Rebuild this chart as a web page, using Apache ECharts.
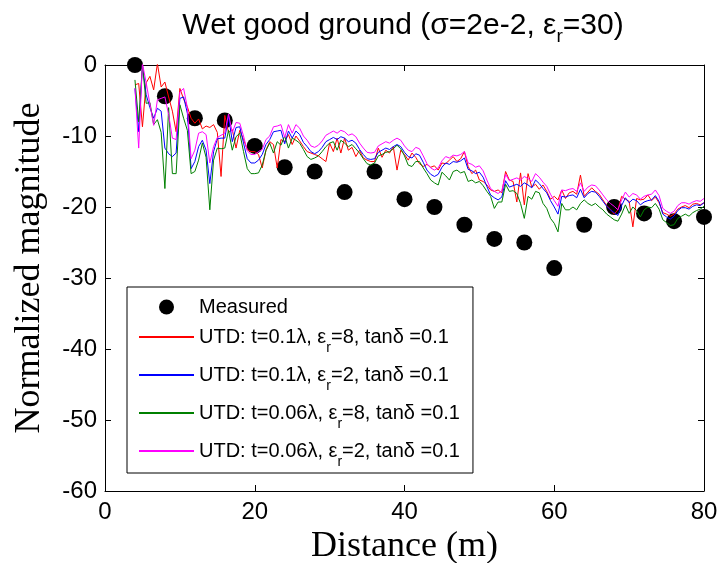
<!DOCTYPE html>
<html><head><meta charset="utf-8">
<script src="https://cdn.jsdelivr.net/npm/echarts@6/dist/echarts.min.js"></script>
<style>html,body{margin:0;padding:0;background:#fff}#c{width:719px;height:563px}</style>
</head><body><div id="c"></div>
<script>
// Distance grid of simulated curves (m)
const distance = [
 4,4.5,5,5.5,6,6.5,7,7.5,8,8.5,
 9,9.5,10,10.5,11,11.5,12,12.5,13,13.5,
 14,14.5,15,15.5,16,16.5,17,17.5,18,18.5,
 19,19.5,20,20.5,21,21.5,22,22.5,23,23.5,
 24,24.5,25,25.5,26,26.5,27,27.5,28,28.5,
 29,29.5,30,30.5,31,31.5,32,32.5,33,33.5,
 34,34.5,35,35.5,36,36.5,37,37.5,38,38.5,
 39,39.5,40,40.5,41,41.5,42,42.5,43,43.5,
 44,44.5,45,45.5,46,46.5,47,47.5,48,48.5,
 49,49.5,50,50.5,51,51.5,52,52.5,53,53.5,
 54,54.5,55,55.5,56,56.5,57,57.5,58,58.5,
 59,59.5,60,60.5,61,61.5,62,62.5,63,63.5,
 64,64.5,65,65.5,66,66.5,67,67.5,68,68.5,
 69,69.5,70,70.5,71,71.5,72,72.5,73,73.5,
 74,74.5,75,75.5,76,76.5,77,77.5,78,78.5,
 79,79.5,80
];
// Measured points
const measuredDistance = [4,8,12,16,20,24,28,32,36,40,44,48,52,56,60,64,68,72,76,80];
const measured = [0,-4.4,-7.5,-7.8,-11.4,-14.4,-15.0,-17.9,-15.0,-18.9,-20.0,-22.5,-24.5,-25.0,-28.6,-22.5,-20.0,-20.9,-22.0,-21.4];
// UTD: t=0.1λ, εr=8 (red)
const utdT01Er8 = [
 -2.8,-2.6,-8.7,-2.5,-1.6,-3.5,0.2,-3.1,-2.4,-4.5,
 -6.5,-9.4,-3.3,-4.8,-5.9,-7.5,-8.2,-7.6,-9.0,-8.6,
 -8.8,-8.4,-9.5,-15.7,-7.1,-9.5,-9.1,-11.7,-9.2,-10.5,
 -11.9,-12.2,-12.2,-12.6,-14.5,-12.0,-10.8,-11.2,-14.5,-10.5,
 -10.8,-9.8,-11.2,-10.0,-10.7,-11.5,-12.2,-12.4,-12.6,-12.8,
 -13.2,-13.6,-11.0,-12.2,-10.3,-12.4,-10.3,-12.0,-11.6,-12.9,
 -12.0,-13.1,-13.4,-13.6,-13.6,-11.7,-13.0,-12.0,-12.4,-11.5,
 -14.8,-12.0,-12.6,-13.4,-12.4,-13.0,-13.9,-14.3,-14.0,-14.4,
 -14.2,-14.8,-13.8,-13.9,-13.4,-12.9,-13.6,-13.2,-12.2,-14.3,
 -15.3,-14.8,-16.2,-16.4,-16.9,-17.6,-17.8,-17.6,-18.0,-15.0,
 -16.2,-16.4,-19.3,-15.2,-19.7,-15.3,-17.2,-16.8,-17.5,-16.9,
 -17.8,-18.9,-18.5,-19.0,-17.6,-18.8,-18.0,-17.8,-18.2,-15.5,
 -18.5,-17.9,-17.3,-17.8,-18.2,-19.0,-19.8,-20.3,-21.0,-20.4,
 -18.5,-18.9,-19.2,-22.8,-18.8,-19.0,-18.9,-18.3,-19.1,-18.6,
 -19.4,-20.8,-21.0,-21.3,-21.0,-20.3,-20.0,-19.8,-20.1,-19.6,
 -19.5,-19.7,-19.4
];
// UTD: t=0.1λ, εr=2 (blue)
const utdT01Er2 = [
 -3.3,-9.4,0.0,-4.2,-6.0,-7.5,-6.1,-6.5,-11.7,-12.5,
 -12.9,-12.4,-4.7,-4.5,-6.8,-14.6,-13.6,-11.5,-10.6,-12.0,
 -16.7,-12.2,-10.4,-10.3,-10.3,-7.2,-10.8,-8.8,-8.7,-11.0,
 -13.2,-13.8,-13.8,-13.4,-12.6,-11.2,-10.5,-9.4,-9.3,-9.2,
 -11.1,-9.3,-10.3,-9.3,-9.8,-10.9,-11.5,-12.2,-12.5,-12.2,
 -11.6,-10.8,-10.5,-10.2,-10.5,-10.1,-10.3,-10.8,-10.6,-11.0,
 -11.9,-12.6,-13.2,-13.3,-13.2,-12.3,-12.0,-11.7,-11.9,-11.5,
 -11.2,-11.5,-12.3,-12.9,-13.1,-12.5,-12.7,-13.7,-14.8,-15.4,
 -15.7,-15.4,-14.4,-13.8,-14.0,-13.6,-13.7,-13.5,-13.1,-14.7,
 -14.9,-15.3,-15.1,-15.8,-17.1,-18.3,-18.7,-19.0,-18.6,-16.3,
 -17.2,-17.0,-16.8,-17.1,-16.6,-16.9,-17.3,-16.2,-16.7,-17.4,
 -18.0,-19.1,-20.0,-21.0,-18.5,-18.6,-18.4,-18.3,-18.7,-17.5,
 -18.7,-18.1,-17.8,-17.9,-18.5,-19.2,-19.9,-20.4,-20.8,-21.2,
 -19.8,-18.7,-19.4,-18.9,-19.1,-19.7,-19.3,-19.1,-19.0,-18.4,
 -19.2,-21.0,-21.4,-21.7,-21.3,-20.5,-20.1,-20.1,-20.3,-19.9,
 -19.7,-19.8,-19.4
];
// UTD: t=0.06λ, εr=8 (green)
const utdT006Er8 = [
 -2.1,-8.0,0.0,-5.4,-5.3,-8.4,-7.7,-9.5,-17.4,-6.0,
 -15.3,-15.3,-5.6,-7.5,-9.2,-15.3,-15.0,-13.4,-11.0,-13.0,
 -20.4,-13.4,-11.7,-11.8,-11.7,-9.2,-12.0,-10.1,-9.6,-12.2,
 -14.6,-15.3,-15.3,-15.2,-14.1,-12.0,-11.0,-12.4,-10.8,-11.3,
 -10.0,-11.7,-10.3,-10.6,-11.0,-11.9,-12.9,-13.3,-13.1,-12.8,
 -12.2,-11.5,-11.0,-10.8,-12.0,-10.6,-11.0,-11.5,-11.2,-11.8,
 -12.4,-13.2,-13.9,-14.1,-13.8,-12.8,-12.6,-12.3,-12.2,-11.8,
 -11.3,-11.8,-12.8,-14.1,-14.3,-13.6,-13.6,-14.5,-15.3,-16.2,
 -16.6,-16.9,-15.1,-15.6,-16.2,-15.0,-14.8,-15.2,-15.0,-16.4,
 -16.2,-16.6,-16.4,-17.0,-17.8,-18.5,-20.2,-19.3,-19.3,-16.8,
 -17.8,-17.7,-18.1,-19.5,-21.6,-18.5,-18.9,-17.8,-18.0,-19.5,
 -20.2,-21.6,-22.3,-23.5,-19.5,-20.4,-20.4,-20.0,-20.4,-19.5,
 -19.0,-19.5,-19.8,-19.5,-20.0,-20.4,-21.0,-21.4,-21.8,-22.0,
 -21.0,-19.7,-20.9,-20.0,-20.5,-21.4,-20.4,-20.0,-20.1,-19.5,
 -20.3,-21.8,-22.2,-22.6,-22.5,-21.6,-21.3,-21.0,-21.3,-20.8,
 -20.5,-20.3,-19.9
];
// UTD: t=0.06λ, εr=2 (magenta)
const utdT006Er2 = [
 -3.3,-11.7,0.2,-2.5,-5.5,-8.5,-4.9,-4.7,-4.5,-7.0,
 -10.3,-10.5,-3.8,-3.3,-6.0,-13.2,-12.0,-9.6,-9.4,-9.8,
 -13.8,-11.5,-10.2,-9.9,-9.6,-6.9,-9.5,-8.1,-8.2,-10.0,
 -12.1,-12.6,-12.6,-12.2,-11.9,-10.5,-10.0,-8.7,-8.6,-8.4,
 -10.2,-8.4,-9.6,-8.4,-8.9,-10.0,-10.6,-11.4,-11.6,-11.3,
 -10.7,-9.9,-9.6,-9.3,-9.6,-9.2,-9.4,-9.9,-9.7,-10.1,
 -11.0,-11.7,-12.3,-12.4,-12.3,-11.4,-11.1,-10.8,-11.0,-10.6,
 -10.3,-10.6,-11.4,-12.0,-12.2,-11.6,-11.8,-12.8,-13.9,-14.5,
 -14.8,-14.5,-13.5,-12.9,-13.1,-12.7,-12.8,-12.6,-12.2,-13.8,
 -14.0,-14.4,-14.2,-14.9,-16.2,-17.4,-17.8,-18.1,-17.7,-15.4,
 -16.3,-16.1,-15.9,-16.2,-15.7,-16.0,-16.4,-15.3,-15.8,-16.5,
 -17.1,-18.2,-19.1,-19.9,-17.6,-17.7,-17.5,-17.4,-17.8,-16.6,
 -17.8,-17.2,-16.9,-17.0,-17.6,-18.3,-19.0,-19.5,-19.9,-20.4,
 -19.0,-17.9,-18.6,-18.1,-18.3,-18.9,-18.5,-18.3,-18.2,-17.6,
 -18.4,-20.2,-20.6,-20.9,-20.6,-19.8,-19.4,-19.4,-19.6,-19.3,
 -19.1,-19.2,-18.8
];
const xTicks = {min: 0, max: 80, step: 20};
const yTicks = {min: -60, max: 0, step: 10};

const SANS = '"Liberation Sans", Arial, Helvetica, sans-serif';
const SERIF = '"Liberation Serif", "Times New Roman", serif';
const zip = (xs, ys) => xs.map((x, i) => [x, ys[i]]);

const legendText = {
  'Measured': '{m|Measured}',
  'r8': '{n|UTD: t=0.1λ, ε}{s|r}{n|=8, tanδ =0.1}',
  'b2': '{n|UTD: t=0.1λ, ε}{s|r}{n|=2, tanδ =0.1}',
  'g8': '{n|UTD: t=0.06λ, ε}{s|r}{n|=8, tanδ =0.1}',
  'm2': '{n|UTD: t=0.06λ, ε}{s|r}{n|=2, tanδ =0.1}'
};

const axisCommon = {
  axisLine: {show: true, onZero: false, lineStyle: {color: '#000', width: 1}},
  axisTick: {show: true, inside: true, length: 6, lineStyle: {color: '#000', width: 1}},
  splitLine: {show: false}
};

const hiddenSymbol = {opacity: 0};

const chart = echarts.init(document.getElementById('c'), null, {renderer: 'canvas'});
chart.setOption({
  animation: false,
  backgroundColor: '#fff',
  title: {
    text: '{n|Wet good ground (σ=2e-2, ε}{s|r}{n|=30)}',
    left: 398, top: 0, textAlign: 'center',
    textStyle: {
      fontWeight: 'normal',
      rich: {
        n: {fontFamily: SANS, fontSize: 30, fontWeight: 'normal', color: '#000'},
        s: {fontFamily: SANS, fontSize: 19, fontWeight: 'normal', color: '#000', padding: [22, 0, 0, 0]}
      }
    }
  },
  grid: {left: 105, right: 15, top: 65, bottom: 72, containLabel: false, outerBoundsMode: 'none'},
  legend: {
    orient: 'vertical', left: 127, top: 287,
    itemWidth: 55, itemHeight: 15, itemGap: 10,
    padding: [10, 13, 4, 11],
    borderColor: '#000', borderWidth: 1, backgroundColor: '#fff',
    selectedMode: false,
    data: [
      {name: 'Measured', icon: 'circle'},
      {name: 'r8', itemStyle: hiddenSymbol},
      {name: 'b2', itemStyle: hiddenSymbol},
      {name: 'g8', itemStyle: hiddenSymbol},
      {name: 'm2', itemStyle: hiddenSymbol}
    ],
    formatter: name => legendText[name],
    textStyle: {
      color: '#000', fontFamily: SANS, fontSize: 20,
      rich: {
        m: {fontFamily: SANS, fontSize: 20, color: '#000'},
        n: {fontFamily: SANS, fontSize: 20, color: '#000'},
        s: {fontFamily: SANS, fontSize: 14, color: '#000', padding: [22, 0, 0, 0]}
      }
    }
  },
  xAxis: [
    Object.assign({
      type: 'value', min: xTicks.min, max: xTicks.max, interval: xTicks.step, position: 'bottom',
      axisLabel: {color: '#000', fontFamily: SANS, fontSize: 24, margin: 9},
      name: 'Distance (m)', nameLocation: 'middle', nameGap: 38,
      nameTextStyle: {color: '#000', fontFamily: SERIF, fontSize: 36}
    }, axisCommon),
    Object.assign({
      type: 'value', min: xTicks.min, max: xTicks.max, interval: xTicks.step, position: 'top',
      axisLabel: {show: false}
    }, axisCommon)
  ],
  yAxis: [
    Object.assign({
      type: 'value', min: yTicks.min, max: yTicks.max, interval: yTicks.step, position: 'left',
      axisLabel: {color: '#000', fontFamily: SANS, fontSize: 24, margin: 8},
      name: 'Normalized magnitude', nameLocation: 'middle', nameGap: 57, nameRotate: 90,
      nameTextStyle: {color: '#000', fontFamily: SERIF, fontSize: 36, padding: [0, 0, 0, 20]}
    }, axisCommon),
    Object.assign({
      type: 'value', min: yTicks.min, max: yTicks.max, interval: yTicks.step, position: 'right',
      axisLabel: {show: false}
    }, axisCommon)
  ],
  series: [
    {name: 'Measured', type: 'scatter', data: zip(measuredDistance, measured),
     symbol: 'circle', symbolSize: 16, itemStyle: {color: '#000', opacity: 1}, z: 2},
    {name: 'r8', type: 'line', data: zip(distance, utdT01Er8), showSymbol: false, symbol: 'none',
     lineStyle: {color: '#ff0000', width: 1}, itemStyle: {color: '#ff0000'}, z: 3},
    {name: 'b2', type: 'line', data: zip(distance, utdT01Er2), showSymbol: false, symbol: 'none',
     lineStyle: {color: '#0000ff', width: 1}, itemStyle: {color: '#0000ff'}, z: 3},
    {name: 'g8', type: 'line', data: zip(distance, utdT006Er8), showSymbol: false, symbol: 'none',
     lineStyle: {color: '#008000', width: 1}, itemStyle: {color: '#008000'}, z: 3},
    {name: 'm2', type: 'line', data: zip(distance, utdT006Er2), showSymbol: false, symbol: 'none',
     lineStyle: {color: '#ff00ff', width: 1}, itemStyle: {color: '#ff00ff'}, z: 3}
  ]
});
</script>
</body></html>
